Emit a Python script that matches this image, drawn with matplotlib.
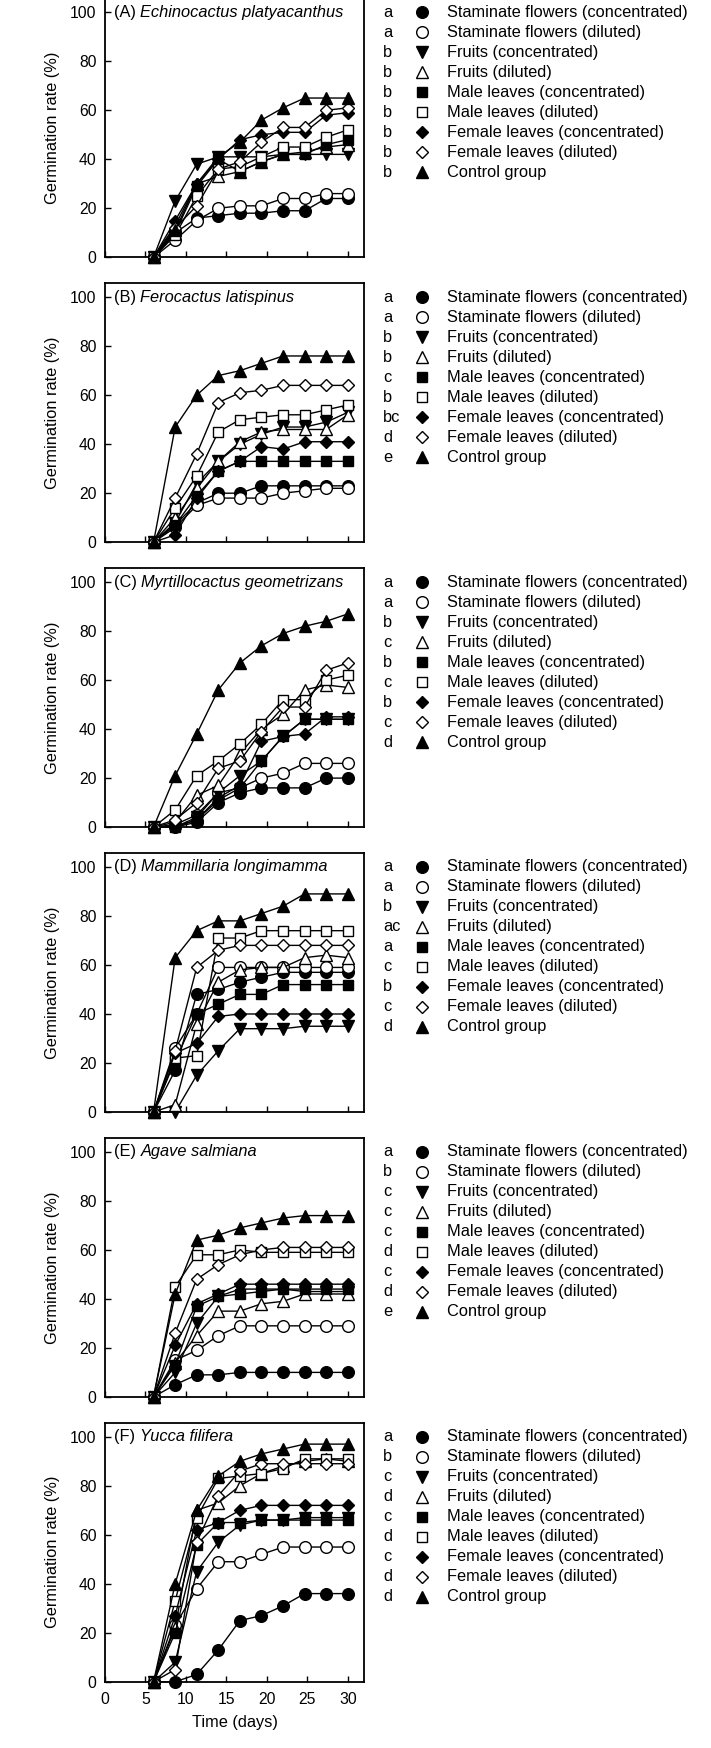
import matplotlib
matplotlib.use('Agg')
import matplotlib.pyplot as plt
from matplotlib.transforms import blended_transform_factory, offset_copy

plt.rcParams['font.family'] = ['Liberation Sans', 'DejaVu Sans']

# ---------------- data ----------------
days = [6, 8.67, 11.33, 14, 16.67, 19.33, 22, 24.67, 27.33, 30]

treatments = ['Staminate flowers (concentrated)', 'Staminate flowers (diluted)',
              'Fruits (concentrated)', 'Fruits (diluted)',
              'Male leaves (concentrated)', 'Male leaves (diluted)',
              'Female leaves (concentrated)', 'Female leaves (diluted)',
              'Control group']

panel_tags = ['(A)', '(B)', '(C)', '(D)', '(E)', '(F)']
species = ['Echinocactus platyacanthus', 'Ferocactus latispinus',
           'Myrtillocactus geometrizans', 'Mammillaria longimamma',
           'Agave salmiana', 'Yucca filifera']

letters_A = ['a', 'a', 'b', 'b', 'b', 'b', 'b', 'b', 'b']
letters_B = ['a', 'a', 'b', 'b', 'c', 'b', 'bc', 'd', 'e']
letters_C = ['a', 'a', 'b', 'c', 'b', 'c', 'b', 'c', 'd']
letters_D = ['a', 'a', 'b', 'ac', 'a', 'c', 'b', 'c', 'd']
letters_E = ['a', 'b', 'c', 'c', 'c', 'd', 'c', 'd', 'e']
letters_F = ['a', 'b', 'c', 'd', 'c', 'd', 'c', 'd', 'd']

# rows follow the order of `treatments`
values_A = [
    [0, 10, 16, 17, 18, 18, 19, 19, 24, 24],
    [0, 7, 15, 20, 21, 21, 24, 24, 26, 26],
    [0, 23, 38, 41, 41, 41, 42, 42, 42, 42],
    [0, 13, 30, 33, 35, 39, 42, 43, 45, 46],
    [0, 10, 29, 40, 35, 39, 42, 42, 46, 48],
    [0, 9, 25, 36, 37, 41, 45, 45, 49, 52],
    [0, 15, 30, 40, 48, 50, 51, 51, 58, 59],
    [0, 12, 21, 36, 39, 47, 53, 53, 60, 61],
    [0, 11, 30, 41, 47, 56, 61, 65, 65, 65],
]
values_B = [
    [0, 7, 16, 20, 20, 23, 23, 23, 23, 23],
    [0, 6, 15, 18, 18, 18, 20, 21, 22, 22],
    [0, 8, 24, 33, 40, 44, 47, 47, 49, 53],
    [0, 10, 22, 33, 41, 45, 46, 46, 46, 52],
    [0, 7, 19, 29, 33, 33, 33, 33, 33, 33],
    [0, 14, 27, 45, 50, 51, 52, 52, 54, 56],
    [0, 3, 18, 29, 33, 39, 38, 41, 41, 41],
    [0, 18, 36, 57, 61, 62, 64, 64, 64, 64],
    [0, 47, 60, 68, 70, 73, 76, 76, 76, 76],
]
values_C = [
    [0, 0, 2, 10, 14, 16, 16, 16, 20, 20],
    [0, 1, 5, 14, 16, 20, 22, 26, 26, 26],
    [0, 0, 4, 14, 21, 27, 37, 44, 44, 44],
    [0, 2, 13, 17, 30, 40, 46, 56, 58, 57],
    [0, 0, 3, 11, 16, 27, 37, 44, 44, 44],
    [0, 7, 21, 27, 34, 42, 52, 52, 60, 62],
    [0, 0, 3, 12, 17, 35, 37, 38, 45, 45],
    [0, 3, 10, 24, 27, 39, 49, 49, 64, 67],
    [0, 21, 38, 56, 67, 74, 79, 82, 84, 87],
]
values_D = [
    [0, 17, 48, 50, 53, 55, 57, 57, 57, 57],
    [0, 26, 40, 59, 59, 59, 59, 59, 59, 59],
    [0, 0, 15, 25, 34, 34, 34, 35, 35, 35],
    [0, 3, 36, 53, 58, 59, 59, 63, 64, 63],
    [0, 21, 40, 44, 48, 48, 52, 52, 52, 52],
    [0, 22, 23, 71, 71, 74, 74, 74, 74, 74],
    [0, 24, 28, 39, 40, 40, 40, 40, 40, 40],
    [0, 25, 59, 66, 68, 68, 68, 68, 68, 68],
    [0, 63, 74, 78, 78, 81, 84, 89, 89, 89],
]
values_E = [
    [0, 5, 9, 9, 10, 10, 10, 10, 10, 10],
    [0, 15, 19, 25, 29, 29, 29, 29, 29, 29],
    [0, 10, 30, 41, 44, 44, 44, 43, 43, 43],
    [0, 14, 25, 35, 35, 38, 39, 42, 42, 42],
    [0, 13, 37, 41, 42, 43, 44, 44, 44, 44],
    [0, 45, 58, 58, 60, 59, 59, 59, 59, 59],
    [0, 21, 38, 42, 46, 46, 46, 46, 46, 46],
    [0, 26, 48, 54, 58, 60, 61, 61, 61, 61],
    [0, 42, 64, 66, 69, 71, 73, 74, 74, 74],
]
values_F = [
    [0, 0, 3, 13, 25, 27, 31, 36, 36, 36],
    [0, 23, 38, 49, 49, 52, 55, 55, 55, 55],
    [0, 8, 45, 57, 64, 66, 66, 67, 67, 67],
    [0, 22, 70, 73, 80, 85, 88, 90, 91, 90],
    [0, 20, 56, 65, 65, 66, 66, 66, 66, 66],
    [0, 33, 67, 83, 84, 85, 87, 91, 91, 91],
    [0, 27, 62, 65, 70, 72, 72, 72, 72, 72],
    [0, 5, 57, 76, 86, 89, 89, 89, 89, 89],
    [0, 40, 70, 84, 90, 93, 95, 97, 97, 97],
]

panels_values = [values_A, values_B, values_C, values_D, values_E, values_F]
panels_letters = [letters_A, letters_B, letters_C, letters_D, letters_E, letters_F]
x_ticks = [0, 5, 10, 15, 20, 25, 30]
y_ticks = [0, 20, 40, 60, 80, 100]

# ---------------- styles ----------------
markers = ['o', 'o', 'v', '^', 's', 's', 'D', 'D', '^']
faces = ['black', 'white', 'black', 'white', 'black', 'white', 'black', 'white', 'black']
msizes = [8.4, 8.4, 8.8, 8.8, 7.2, 7.2, 6.2, 6.2, 8.8]

W, H = 711, 1748
DPI = 100
fig = plt.figure(figsize=(W / DPI, H / DPI), dpi=DPI)
fig.patch.set_facecolor('white')

ax_left = 105
ax_w = 259
ax_h = 259
first_top = -1.7
step = 284.9
FS = 11.8
TFS = 11.3

renderer = fig.canvas.get_renderer()

for i in range(6):
    top = first_top + step * i
    ax = fig.add_axes([ax_left / W, 1 - (top + ax_h) / H, ax_w / W, ax_h / H])
    vals = panels_values[i]
    for k in range(9):
        ax.plot(days, vals[k], color='black', lw=1.0, marker=markers[k],
                markersize=msizes[k], markerfacecolor=faces[k],
                markeredgecolor='black', markeredgewidth=1.0,
                clip_on=False, zorder=3 + k * 0.1)
    ax.set_xlim(0, 32)
    ax.set_ylim(0, 105.7)
    ax.set_xticks(x_ticks)
    ax.set_yticks(y_ticks)
    ax.tick_params(axis='both', direction='in', length=4, width=1.0,
                   labelsize=TFS, color='black')
    ax.tick_params(axis='y', pad=6)
    ax.tick_params(axis='x', pad=7)
    if i < 5:
        ax.set_xticklabels([])
    for sp in ax.spines.values():
        sp.set_linewidth(1.3)

    # title: "(X) " regular + italic species
    tr = blended_transform_factory(ax.transAxes, ax.transData)
    t1 = ax.text(9 / ax_w, 100, panel_tags[i] + ' ', transform=tr,
                 fontsize=FS, va='center', ha='left')
    wpx = t1.get_window_extent(renderer).width
    ax.text(9 / ax_w, 100, species[i], fontsize=FS, va='center', ha='left',
            fontstyle='italic', transform=offset_copy(tr, fig=fig, x=wpx, units='dots'))

    # y label
    fig.text(53 / W, 1 - (top + ax_h / 2) / H, 'Germination rate (%)',
             rotation=90, ha='center', va='center', fontsize=FS)

    # legend column
    trl = blended_transform_factory(fig.transFigure, ax.transData)
    for k in range(9):
        yv = 100 - k * 20 / 2.45
        ax.text(383 / W, yv, panels_letters[i][k], transform=trl,
                fontsize=FS, ha='left', va='center')
        ax.plot([422 / W], [yv], transform=trl, marker=markers[k],
                markersize=msizes[k], markerfacecolor=faces[k],
                markeredgecolor='black', markeredgewidth=1.0,
                linestyle='none', clip_on=False)
        ax.text(447 / W, yv, treatments[k], transform=trl,
                fontsize=FS, ha='left', va='center')

    if i == 5:
        ax.set_xlabel('Time (days)', fontsize=FS, labelpad=6)

fig.savefig('out.png', dpi=DPI, facecolor='white')
